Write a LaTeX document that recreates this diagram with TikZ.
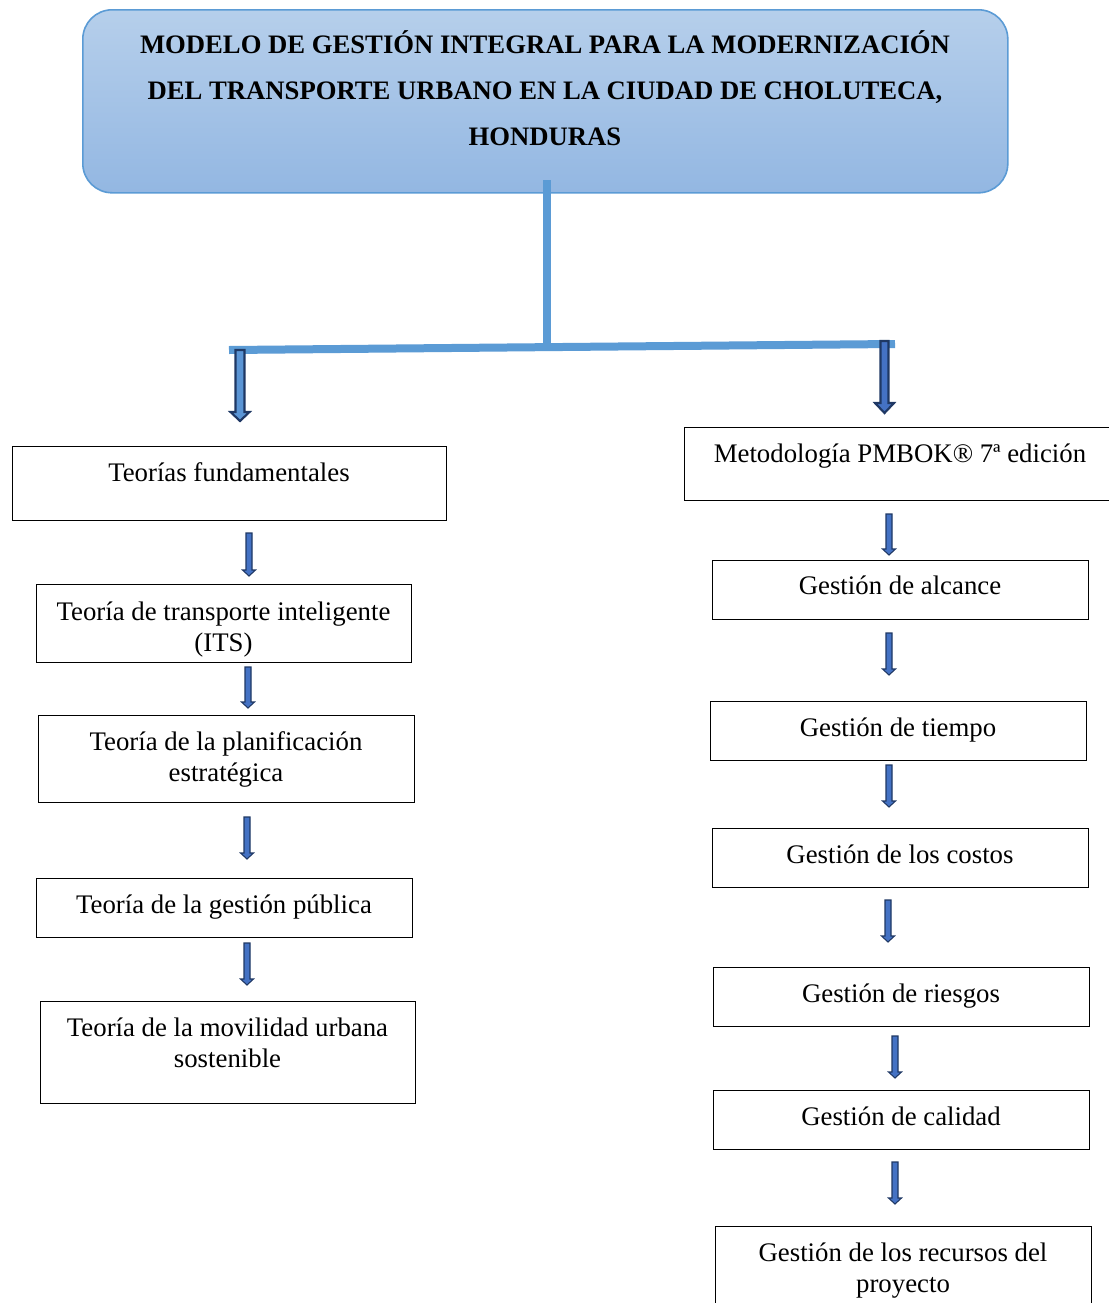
\documentclass[tikz,border=0pt]{standalone}
\usepackage{fontspec}
\setmainfont{Liberation Serif}
\definecolor{lineblue}{HTML}{5B9BD5}
\definecolor{titletop}{HTML}{B6CFEB}
\definecolor{titlebot}{HTML}{93B7E2}
\definecolor{arrowfillA}{HTML}{5B95D5}
\definecolor{arrowfillB}{HTML}{4472C4}
\definecolor{arrowdark}{HTML}{1F3864}
\newcommand{\blkarrow}[7]{% x, ytop, ybot, shaft half, head half, head length, style
  \draw[#7] ({#1-#4},#2) -- ({#1+#4},#2) -- ({#1+#4},{#3-#6}) -- ({#1+#5},{#3-#6})
    -- (#1,#3) -- ({#1-#5},{#3-#6}) -- ({#1-#4},{#3-#6}) -- cycle;}
\tikzset{
  boxnode/.style={draw=black, line width=1.1pt, anchor=north west, inner sep=0pt, fill=white},
  txt/.style={font=\fontsize{20.1pt}{23.2pt}\selectfont, align=center, inner sep=0pt, anchor=base},
  titlebox/.style={draw=lineblue, line width=1.2pt, rounded corners=22pt, top color=titletop,
    bottom color=titlebot, anchor=north west, inner sep=0pt},
  titletxt/.style={font=\bfseries\fontsize{20pt}{34.5pt}\selectfont, align=center, inner sep=0pt},
  conn/.style={draw=lineblue, line width=6pt},
  bigarrow/.style={fill=#1, draw=arrowdark, line width=1.6pt, line join=miter},
  smallarrow/.style={fill=arrowfillB, draw=arrowdark, line width=0.8pt, line join=miter}
}
\newcommand{\boxat}[5]{%
  \node[boxnode, minimum width={(#4-#2)*0.75pt}, minimum height={(#5-#3)*0.75pt}] (#1) at (#2,#3) {};}
\begin{document}
\begin{tikzpicture}[x=0.75pt,y=-0.75pt]
\clip (0,0) rectangle (1109,1303);
\fill[white] (0,0) rectangle (1109,1303);
% title
\node[titlebox, minimum width={925*0.75pt}, minimum height={183*0.75pt}] (title) at (82,9) {};
\node[titletxt] (titletext) at (545,88) {MODELO DE GESTIÓN INTEGRAL PARA LA MODERNIZACIÓN\\DEL TRANSPORTE URBANO EN LA CIUDAD DE CHOLUTECA,\\HONDURAS};
% connectors
\coordinate (vtop) at (546.5,180);
\coordinate (vbot) at (546.5,344);
\coordinate (hl) at (229,350);
\coordinate (hr) at (895,344);
\draw[conn] (vtop) -- (vbot);
\draw[conn] (hl) -- (hr);
\blkarrow{240}{350}{421}{4.5}{9.5}{9}{bigarrow=arrowfillA}
\blkarrow{884.5}{341}{413}{4}{9.5}{10}{bigarrow=arrowfillB}
% left column
\boxat{L1}{12}{446}{446}{520}
\node[txt] (t1) at (229,481) {Teorías fundamentales};
\boxat{L2}{36}{584}{411}{662}
\node[txt] (t2) at (223.5,651) {Teoría de transporte inteligente\\(ITS)};
\boxat{L3}{38}{715}{414}{802}
\node[txt] (t3) at (226,781) {Teoría de la planificación\\estratégica};
\boxat{L4}{36}{878}{412}{937}
\node[txt] (t4) at (224,913) {Teoría de la gestión pública};
\boxat{L5}{40}{1001}{415}{1103}
\node[txt] (t5) at (227.5,1067) {Teoría de la movilidad urbana\\sostenible};
\blkarrow{249}{533}{576}{3}{6.5}{6}{smallarrow}
\blkarrow{248}{667}{708}{3}{6.5}{6}{smallarrow}
\blkarrow{247}{817}{859}{3}{6.5}{6}{smallarrow}
\blkarrow{247}{943}{985}{3}{6.5}{6}{smallarrow}
% right column
\boxat{R1}{684}{427}{1114}{500}
\node[txt] (r1) at (900,462) {Metodología PMBOK® 7ª edición};
\boxat{R2}{712}{560}{1088}{619}
\node[txt] (r2) at (900,594) {Gestión de alcance};
\boxat{R3}{710}{701}{1086}{760}
\node[txt] (r3) at (898,736) {Gestión de tiempo};
\boxat{R4}{712}{828}{1088}{887}
\node[txt] (r4) at (900,863) {Gestión de los costos};
\boxat{R5}{713}{967}{1089}{1026}
\node[txt] (r5) at (901,1002) {Gestión de riesgos};
\boxat{R6}{713}{1090}{1089}{1149}
\node[txt] (r6) at (901,1125) {Gestión de calidad};
\boxat{R7}{715}{1226}{1091}{1312}
\node[txt] (r7) at (903,1292) {Gestión de los recursos del\\proyecto};
\blkarrow{889}{514}{555}{3}{6.5}{6}{smallarrow}
\blkarrow{889}{633}{675}{3}{6.5}{6}{smallarrow}
\blkarrow{889}{765}{807}{3}{6.5}{6}{smallarrow}
\blkarrow{888}{900}{942}{3}{6.5}{6}{smallarrow}
\blkarrow{895}{1036}{1078}{3}{6.5}{6}{smallarrow}
\blkarrow{895}{1162}{1204}{3}{6.5}{6}{smallarrow}
\end{tikzpicture}
\end{document}
